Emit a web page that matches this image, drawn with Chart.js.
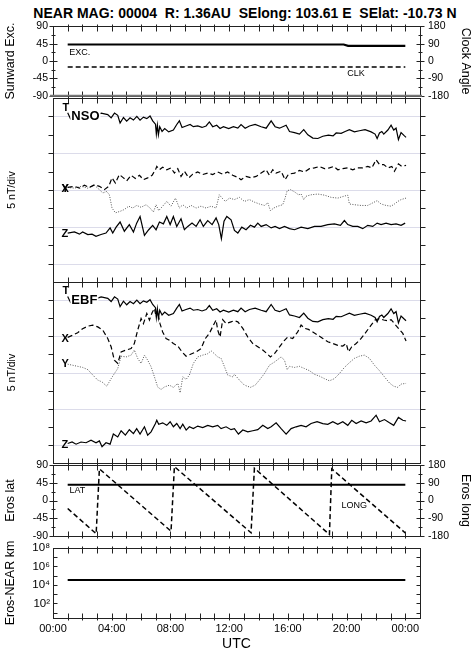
<!DOCTYPE html>
<html>
<head>
<meta charset="utf-8">
<script src="https://cdn.jsdelivr.net/npm/chart.js@4.4.1/dist/chart.umd.min.js"></script>
<style>
html, body { margin: 0; padding: 0; background: #fff; }
body { width: 474px; height: 656px; position: relative; overflow: hidden; }
canvas { position: absolute; left: 0; }
#title { position: absolute; top: 5px; left: 8px; width: 474px; text-align: center; white-space: pre;
  font: bold 14px "Liberation Sans", Arial, sans-serif; color: #000; }
</style>
</head>
<body>
<div id="title">NEAR MAG: 00004  R: 1.36AU  SElong: 103.61 E  SElat: -10.73 N</div>
<canvas id="p1" width="474" height="98" style="top:12px"></canvas>
<canvas id="p2" width="474" height="208" style="top:86px"></canvas>
<canvas id="p3" width="474" height="205" style="top:270px"></canvas>
<canvas id="p4" width="474" height="99" style="top:451px"></canvas>
<canvas id="p5" width="474" height="120" style="top:536px"></canvas>
<script>
// time axis (hours UTC)
const utcHours = [0, 4, 8, 12, 16, 20, 24];
const utcLabels = ['00:00', '04:00', '08:00', '12:00', '16:00', '20:00', '00:00'];

// panel 1: sunward excursion / clock angle (deg)
const excTicks = [-90, -45, 0, 45, 90];
const clockTicks = [-180, -90, 0, 90, 180];
const sunwardExc = [[1, 42.8], [19.8, 42.8], [20.1, 39.2], [24, 39.2]];
const clockAngle = [[1, -31], [24, -31]];

// panels 2 and 3: field components, 5 nT/div offset traces [hour, nT]
const totalField = [[1.0,46.0],[1.2,44.3],[1.8,45.0],[2.4,45.5],[3.0,45.5],[3.28,45.9],[3.73,45.5],[3.96,44.6],[4.19,45.9],[4.41,45.3],[4.57,43.2],[4.80,44.7],[5.02,43.7],[5.25,44.6],[5.48,44.0],[5.71,45.0],[5.93,44.0],[6.16,44.8],[6.39,44.4],[6.61,45.1],[6.79,43.8],[6.98,42.9],[7.04,40.2],[7.11,42.6],[7.18,40.0],[7.27,42.2],[7.43,40.9],[7.61,41.7],[7.88,40.8],[8.20,41.3],[8.43,42.8],[8.61,43.8],[8.79,42.0],[9.06,42.4],[9.34,42.8],[9.56,42.2],[9.86,42.4],[10.15,42.0],[10.43,42.4],[10.65,43.5],[10.88,42.2],[11.15,42.6],[11.38,41.7],[11.61,42.2],[11.97,41.7],[12.29,42.2],[12.59,41.8],[12.81,42.8],[13.09,41.8],[13.38,42.4],[13.77,42.8],[14.18,42.2],[14.52,41.8],[14.86,43.8],[15.13,42.2],[15.43,41.8],[15.88,42.6],[16.11,40.9],[16.45,40.6],[16.79,40.2],[17.08,41.4],[17.36,40.0],[17.70,39.1],[18.04,39.0],[18.38,39.6],[18.76,39.9],[19.08,39.7],[19.29,40.5],[19.63,40.4],[19.90,40.9],[20.19,41.4],[20.53,40.8],[20.87,41.1],[21.26,41.4],[21.67,40.8],[21.94,40.2],[22.08,39.0],[22.24,40.5],[22.40,40.9],[22.53,40.2],[22.81,41.3],[23.03,42.6],[23.21,41.3],[23.37,41.8],[23.53,38.7],[23.71,40.6],[23.94,39.7],[24.05,39.3]];

const nsoX = [[1.0,25.7],[1.46,26.0],[1.80,25.5],[2.14,26.3],[2.48,25.7],[2.82,26.4],[3.16,26.0],[3.50,25.1],[3.80,26.0],[4.02,28.3],[4.25,26.9],[4.52,29.2],[4.80,28.3],[5.02,27.5],[5.32,29.0],[5.61,28.1],[5.89,29.0],[6.16,27.8],[6.45,28.3],[6.75,29.0],[6.98,30.5],[7.07,31.4],[7.25,30.5],[7.47,31.2],[7.75,30.5],[8.04,31.0],[8.27,29.6],[8.50,30.8],[8.72,28.7],[8.95,30.1],[9.25,28.3],[9.52,29.3],[9.86,29.9],[10.20,29.2],[10.54,29.6],[10.88,29.2],[11.22,29.9],[11.56,29.3],[11.90,29.9],[12.24,29.0],[12.59,28.4],[12.81,27.8],[13.15,28.7],[13.49,28.3],[13.84,28.7],[14.18,29.6],[14.52,30.5],[14.74,29.0],[14.97,30.5],[15.20,29.6],[15.54,30.1],[15.81,27.8],[16.04,29.3],[16.45,29.6],[16.79,30.3],[17.13,29.9],[17.47,30.8],[17.81,31.0],[18.15,31.4],[18.49,30.8],[18.83,31.0],[19.13,31.4],[19.40,30.5],[19.74,30.8],[20.08,31.0],[20.42,30.5],[20.76,31.0],[21.10,31.0],[21.44,31.4],[21.72,31.0],[22.01,33.2],[22.24,31.9],[22.53,31.9],[22.81,31.0],[23.08,31.4],[23.26,30.1],[23.53,32.1],[23.76,31.4],[24.05,31.7]];

const nsoY = [[1.0,25.7],[1.46,25.5],[1.91,26.0],[2.37,25.5],[2.82,26.3],[3.16,25.1],[3.39,24.2],[3.66,24.6],[3.84,23.7],[4.02,20.1],[4.25,18.8],[4.57,19.2],[4.86,19.7],[5.16,20.6],[5.43,20.1],[5.70,20.8],[6.00,20.3],[6.34,21.0],[6.61,20.1],[6.84,19.0],[7.02,21.0],[7.20,19.4],[7.47,20.6],[7.75,21.9],[8.04,20.6],[8.34,22.8],[8.61,20.1],[8.84,21.0],[9.11,20.1],[9.41,20.8],[9.75,20.1],[10.08,20.6],[10.43,20.1],[10.77,20.6],[11.11,20.1],[11.33,23.7],[11.52,22.8],[11.74,21.9],[12.02,22.8],[12.36,22.4],[12.70,23.0],[13.04,21.9],[13.38,22.4],[13.72,21.7],[14.06,21.2],[14.40,20.8],[14.63,21.5],[14.81,19.4],[15.04,20.1],[15.31,20.6],[15.65,21.0],[15.81,22.8],[15.95,24.8],[16.18,25.1],[16.45,24.5],[16.72,23.7],[16.90,23.9],[17.08,22.4],[17.24,23.3],[17.58,23.7],[18.04,23.9],[18.49,23.6],[18.95,23.0],[19.40,22.8],[19.81,23.3],[20.08,23.6],[20.19,21.2],[20.53,21.0],[20.99,20.8],[21.44,20.8],[21.78,21.5],[22.08,22.1],[22.35,21.2],[22.69,20.8],[23.03,20.6],[23.26,21.2],[23.49,21.9],[23.71,22.4],[24.05,22.8]];

const nsoZ = [[1.0,13.3],[1.46,13.6],[1.80,13.0],[2.02,13.6],[2.37,12.9],[2.66,13.0],[2.93,12.4],[3.27,12.9],[3.61,13.3],[3.89,14.7],[4.07,13.3],[4.30,14.9],[4.57,16.3],[4.86,13.8],[5.20,15.6],[5.48,13.6],[5.70,16.0],[5.93,17.8],[6.23,12.7],[6.52,14.2],[6.79,15.4],[7.02,14.2],[7.25,16.3],[7.52,15.8],[7.75,17.8],[7.98,15.6],[8.20,17.8],[8.43,15.1],[8.72,17.2],[8.95,14.2],[9.18,15.1],[9.47,16.0],[9.75,15.1],[10.02,16.9],[10.24,15.1],[10.54,16.7],[10.84,15.6],[11.11,17.4],[11.29,15.6],[11.47,11.8],[11.65,16.5],[11.84,17.8],[12.13,16.9],[12.36,14.0],[12.59,13.3],[12.86,14.9],[13.15,14.2],[13.45,15.4],[13.72,14.9],[13.95,16.0],[14.18,15.1],[14.52,15.6],[14.86,14.7],[15.13,15.1],[15.43,14.5],[15.77,15.1],[16.11,14.5],[16.45,14.2],[16.90,14.9],[17.36,14.5],[17.81,15.1],[18.26,15.1],[18.72,15.6],[19.17,15.8],[19.58,15.4],[19.85,16.7],[20.08,15.6],[20.42,15.1],[20.76,15.1],[21.10,14.5],[21.44,15.4],[21.78,15.1],[22.08,16.0],[22.35,15.6],[22.69,16.0],[23.03,15.6],[23.37,15.8],[23.71,15.4],[23.99,16.0]];

const ebfX = [[1.0,34.7],[1.34,35.3],[1.68,36.0],[2.02,37.1],[2.37,37.8],[2.71,38.1],[3.05,37.6],[3.39,36.7],[3.73,34.4],[3.96,32.1],[4.18,28.4],[4.41,27.5],[4.64,30.7],[4.98,31.2],[5.32,31.6],[5.54,33.0],[5.77,36.7],[6.00,39.9],[6.16,38.5],[6.39,41.3],[6.57,39.5],[6.75,41.5],[6.91,42.7],[7.02,40.4],[7.13,41.8],[7.29,38.5],[7.47,36.2],[7.70,34.4],[7.93,33.9],[8.20,33.0],[8.50,32.3],[8.79,30.7],[9.07,29.5],[9.41,30.1],[9.75,30.7],[10.08,31.6],[10.38,34.4],[10.65,35.8],[10.93,38.1],[11.11,39.5],[11.22,36.7],[11.38,34.8],[11.56,39.6],[11.79,38.5],[12.13,39.0],[12.36,39.3],[12.59,39.0],[12.93,37.2],[13.27,34.8],[13.61,33.0],[13.95,32.1],[14.29,31.2],[14.52,30.4],[14.81,29.3],[15.09,30.2],[15.43,32.1],[15.77,33.9],[15.99,34.8],[16.33,34.4],[16.67,36.2],[16.90,38.1],[17.13,37.2],[17.40,36.9],[17.70,36.2],[18.04,35.3],[18.38,34.4],[18.72,33.5],[19.06,33.0],[19.40,32.5],[19.74,32.3],[19.97,33.0],[20.13,30.7],[20.35,32.1],[20.65,33.0],[20.99,34.4],[21.33,36.2],[21.67,38.1],[21.94,39.5],[22.24,39.9],[22.53,39.5],[22.81,39.3],[23.03,39.6],[23.26,38.5],[23.53,37.2],[23.83,35.8],[24.05,33.7]];

const ebfY = [[1.0,27.3],[1.34,27.0],[1.68,26.7],[2.02,26.4],[2.37,25.8],[2.71,24.3],[3.05,22.9],[3.34,22.4],[3.66,21.2],[3.96,23.3],[4.18,24.7],[4.41,26.1],[4.64,29.5],[4.98,29.3],[5.32,29.8],[5.54,31.2],[5.77,28.9],[6.00,27.5],[6.23,29.8],[6.45,28.4],[6.68,26.6],[6.91,23.8],[7.13,21.0],[7.36,20.3],[7.59,21.0],[7.93,21.5],[8.20,20.9],[8.50,22.0],[8.66,19.4],[8.84,23.8],[9.07,23.1],[9.29,24.3],[9.56,27.5],[9.86,29.3],[10.20,29.8],[10.54,30.2],[10.77,31.0],[10.99,30.2],[11.22,29.3],[11.45,28.9],[11.68,26.6],[11.90,24.3],[12.24,23.8],[12.36,24.5],[12.70,22.9],[13.04,21.5],[13.45,20.9],[13.77,21.5],[14.06,22.9],[14.40,24.7],[14.74,27.0],[15.09,27.9],[15.54,29.3],[15.77,28.4],[15.95,25.8],[16.11,26.7],[16.45,26.4],[16.79,26.7],[17.13,26.1],[17.47,25.5],[17.81,24.5],[18.15,24.0],[18.49,23.3],[18.83,22.7],[19.17,23.3],[19.51,24.7],[19.85,26.4],[20.19,27.7],[20.53,28.9],[20.87,29.5],[21.21,29.8],[21.56,28.9],[21.90,27.0],[22.24,25.5],[22.58,23.8],[22.92,22.1],[23.21,21.2],[23.49,20.9],[23.71,21.8],[24.05,22.0]];

const ebfZ = [[1.0,5.4],[1.30,5.8],[1.57,5.2],[1.91,5.8],[2.25,5.6],[2.59,6.3],[2.93,5.6],[3.16,6.1],[3.34,4.5],[3.61,5.6],[3.89,5.2],[4.11,8.0],[4.41,7.2],[4.64,8.9],[4.93,7.7],[5.20,9.2],[5.48,8.1],[5.70,9.5],[5.93,8.0],[6.23,10.0],[6.45,7.7],[6.68,8.6],[6.98,10.9],[7.07,11.8],[7.20,10.7],[7.47,11.1],[7.75,10.4],[7.98,11.4],[8.20,10.0],[8.43,10.9],[8.66,9.5],[8.84,10.7],[9.07,9.1],[9.29,10.0],[9.56,9.5],[9.86,10.2],[10.20,9.8],[10.54,10.4],[10.88,10.0],[11.22,10.4],[11.45,9.5],[11.79,10.0],[12.13,9.2],[12.36,9.5],[12.63,8.0],[12.93,9.1],[13.27,8.6],[13.61,8.9],[13.95,9.2],[14.29,10.4],[14.63,9.5],[14.86,10.0],[15.20,11.1],[15.54,9.5],[15.88,8.0],[16.22,9.5],[16.56,10.0],[16.90,10.4],[17.24,10.0],[17.58,10.9],[17.99,11.4],[18.38,10.9],[18.72,10.7],[19.06,11.4],[19.40,10.7],[19.74,11.4],[20.08,10.4],[20.35,11.8],[20.65,10.9],[20.99,11.6],[21.33,11.1],[21.67,11.6],[22.01,13.2],[22.24,11.4],[22.58,12.0],[22.92,11.1],[23.21,10.4],[23.53,12.6],[23.83,11.8],[24.05,11.6]];

// panel 4: Eros latitude (left) and longitude (right), deg
const erosLat = [[1, 40.5], [24, 40.5]];
const erosLong = [[1.0,-41],[2.94,-170],[3.16,162],[8.04,-157],[8.27,173],[13.49,-165],[13.72,165],[18.83,-174],[18.99,162],[24.0,-166]];

// panel 5: Eros-NEAR distance, km
const distTicks = [1e2, 1e4, 1e6, 1e8];
const distLabels = ['10\u00b2', '10\u2074', '10\u2076', '10\u2078'];
const erosDist = [[1, 35000], [24, 35000]];

const FONT = '"Liberation Sans", Arial, Helvetica, sans-serif';
Chart.defaults.font.family = FONT;
Chart.defaults.color = '#000';

// frame, inward/outward ticks, faint grid and in-plot labels
const framePlugin = {
    id: 'frame',
    beforeDatasetsDraw(chart, args, o) {
        if (!o.grid) return;
        const {ctx, chartArea: a} = chart;
        ctx.save();
        ctx.strokeStyle = '#dcdcea';
        ctx.lineWidth = 1;
        o.grid.forEach(v => {
            const y = Math.round(chart.scales.y.getPixelForValue(v)) + 0.5;
            ctx.beginPath(); ctx.moveTo(a.left, y); ctx.lineTo(a.right, y); ctx.stroke();
        });
        ctx.restore();
    },
    afterDatasetsDraw(chart, args, o) {
        const {ctx, chartArea: a, scales} = chart;
        ctx.save();
        (o.labels || []).forEach(l => {
            const x = scales.x.getPixelForValue(l.h);
            const y = scales[l.axis || 'y'].getPixelForValue(l.v);
            ctx.font = l.font;
            ctx.textAlign = 'left';
            ctx.textBaseline = 'middle';
            if (l.bg) {
                const w = ctx.measureText(l.text).width;
                ctx.fillStyle = '#fff';
                ctx.fillRect(x - 1, y - 6, w + 2, 12);
            }
            ctx.fillStyle = '#000';
            ctx.fillText(l.text, x, y);
        });

        const seg = (x1, y1, x2, y2) => { ctx.beginPath(); ctx.moveTo(x1, y1); ctx.lineTo(x2, y2); ctx.stroke(); };
        ctx.strokeStyle = '#222';
        ctx.lineWidth = 1;
        const L = Math.round(a.left) + 0.5, R = Math.round(a.right) + 0.5;
        const T = Math.round(a.top) + 0.5, B = Math.round(a.bottom) + 0.5;
        ctx.strokeRect(L, T, R - L, B - T);

        for (let h = 1; h <= 24; h++) {
            const x = Math.round(scales.x.getPixelForValue(h)) + 0.5;
            seg(x, T - 2, x, T + 5);
            seg(x, B - 5, x, B + 2);
        }
        const side = (t, x, dir) => {
            if (!t) return;
            const sc = scales[t.axis];
            t.major.forEach(v => {
                const y = Math.round(sc.getPixelForValue(v)) + 0.5;
                seg(x + dir * t.out, y, x - dir * t.in, y);
            });
            (t.minor || []).forEach(v => {
                const y = Math.round(sc.getPixelForValue(v)) + 0.5;
                seg(x + dir * t.mout, y, x - dir * t.min, y);
            });
        };
        side(o.left, L, -1);
        side(o.right, R, 1);

        if (o.heavyBottom) {
            ctx.strokeStyle = '#777';
            ctx.lineWidth = 2;
            seg(a.left - 3, a.bottom, a.right + 2, a.bottom);
        }
        ctx.restore();
    }
};

function xScale(show) {
    return {
        type: 'linear', min: 0, max: 25, display: show,
        grid: {display: false, drawTicks: false}, border: {display: false},
        afterBuildTicks: s => { s.ticks = utcHours.map(v => ({value: v})); },
        afterFit: s => { s.height = show ? 38 : 0; },
        ticks: {autoSkip: false, maxRotation: 0, padding: 4, font: {size: 11},
            callback: (v, i) => utcLabels[i]},
        title: {display: show, text: 'UTC', font: {size: 14}, padding: {top: 0, bottom: 3}}
    };
}

function yScale(opts) {
    const right = opts.position === 'right';
    return {
        type: opts.type || 'linear',
        position: opts.position || 'left',
        min: opts.min, max: opts.max,
        grid: {display: false, drawTicks: false}, border: {display: false},
        afterFit: s => { s.width = right ? 54 : 53; },
        afterBuildTicks: opts.values ? (s => { s.ticks = opts.values.map(v => ({value: v})); }) : undefined,
        ticks: {
            display: opts.values !== null,
            autoSkip: false,
            padding: right ? 8 : (opts.pad || 5),
            font: {size: opts.tickSize || 10.5},
            callback: opts.labels ? ((v, i) => opts.labels[i]) : (v => String(v))
        },
        title: {display: !!opts.title, text: opts.title, font: {size: opts.titleSize || 12.5},
            padding: {top: right ? 1.5 : (opts.titlePad || 3.5), bottom: 0}}
    };
}

function line(data, axis, width, dash, color) {
    return {
        data: data, yAxisID: axis, borderColor: color || '#000', borderWidth: width,
        borderDash: dash || [], pointRadius: 0, tension: 0, fill: false
    };
}

function makePanel(id, pad, datasets, scales, frame) {
    return new Chart(document.getElementById(id), {
        type: 'line',
        data: {datasets: datasets},
        options: {
            responsive: false,
            animation: false,
            events: [],
            layout: {padding: pad},
            plugins: {legend: {display: false}, tooltip: {enabled: false}, frame: frame},
            scales: scales
        },
        plugins: [framePlugin]
    });
}

const boldLbl = 'bold 11px ' + FONT;
const subLbl = 'bold 13px ' + FONT;
const smallLbl = '9px ' + FONT;
const fieldDivs = [5, 10, 15, 20, 25, 30, 35, 40, 45];

// panel 1
makePanel('p1', {top: 12, bottom: 12, left: 0, right: 0},
    [line(sunwardExc, 'y', 2.2), line(clockAngle, 'y2', 1.6, [5, 3])],
    {
        x: xScale(false),
        y: yScale({min: -90, max: 90, values: excTicks, title: 'Sunward Exc.'}),
        y2: yScale({position: 'right', min: -180, max: 180, values: clockTicks, title: 'Clock Angle'})
    },
    {
        left: {axis: 'y', major: excTicks, minor: [-67.5, -22.5, 22.5, 67.5], out: 4, in: 4, mout: 2, min: 2},
        right: {axis: 'y2', major: clockTicks, minor: [-135, -45, 45, 135], out: 4, in: 4, mout: 2, min: 2},
        heavyBottom: true,
        labels: [
            {text: 'EXC.', h: 1.1, v: 21, font: smallLbl},
            {text: 'CLK', h: 20.05, v: -32, font: smallLbl}
        ]
    });

// panel 2: NSO coordinates
makePanel('p2', {top: 12, bottom: 12, left: 0, right: 54},
    [line(totalField, 'y', 1.2), line(nsoX, 'y', 1.2, [5, 3]),
     line(nsoY, 'y', 1, [1, 1.5], '#555'), line(nsoZ, 'y', 1.2)],
    {
        x: xScale(false),
        y: yScale({min: 0, max: 50, values: null, title: '5 nT/div', titleSize: 10.5, titlePad: 5.5})
    },
    {
        grid: [5, 15, 25, 35, 45],
        left: {axis: 'y', major: fieldDivs, out: 5, in: 0},
        right: {axis: 'y', major: fieldDivs, out: 5, in: 0},
        labels: [
            {text: 'T', h: 0.64, v: 47.2, font: boldLbl},
            {text: 'NSO', h: 1.25, v: 45.0, font: subLbl, bg: true},
            {text: 'Y', h: 0.58, v: 25.3, font: boldLbl},
            {text: 'X', h: 0.58, v: 25.3, font: boldLbl},
            {text: 'Z', h: 0.58, v: 13.0, font: boldLbl}
        ]
    });

// panel 3: EBF coordinates
makePanel('p3', {top: 12, bottom: 12, left: 0, right: 54},
    [line(totalField, 'y', 1.2), line(ebfX, 'y', 1.2, [5, 3]),
     line(ebfY, 'y', 1, [1, 1.5], '#555'), line(ebfZ, 'y', 1.2)],
    {
        x: xScale(false),
        y: yScale({min: 0, max: 50, values: null, title: '5 nT/div', titleSize: 10.5, titlePad: 5.5})
    },
    {
        grid: [5, 15, 25, 35, 45],
        left: {axis: 'y', major: fieldDivs, out: 5, in: 0},
        right: {axis: 'y', major: fieldDivs, out: 5, in: 0},
        labels: [
            {text: 'T', h: 0.64, v: 47.4, font: boldLbl},
            {text: 'EBF', h: 1.25, v: 45.0, font: subLbl, bg: true},
            {text: 'X', h: 0.58, v: 34.3, font: boldLbl},
            {text: 'Y', h: 0.58, v: 27.3, font: boldLbl},
            {text: 'Z', h: 0.58, v: 5.0, font: boldLbl}
        ]
    });

// panel 4: Eros lat / long
makePanel('p4', {top: 12, bottom: 12, left: 0, right: 0},
    [line(erosLat, 'y', 2), line(erosLong, 'y2', 1.5, [5, 3])],
    {
        x: xScale(false),
        y: yScale({min: -90, max: 90, values: excTicks, title: 'Eros lat'}),
        y2: yScale({position: 'right', min: -180, max: 180, values: clockTicks, title: 'Eros long'})
    },
    {
        left: {axis: 'y', major: excTicks, minor: [-67.5, -22.5, 22.5, 67.5], out: 4, in: 4, mout: 2, min: 2},
        right: {axis: 'y2', major: clockTicks, minor: [-135, -45, 45, 135], out: 4, in: 4, mout: 2, min: 2},
        labels: [
            {text: 'LAT', h: 1.12, v: 26, font: smallLbl},
            {text: 'LONG', h: 19.65, v: -12.7, font: smallLbl}
        ]
    });

// panel 5: distance, log scale
makePanel('p5', {top: 12, bottom: 0, left: 0, right: 54},
    [line(erosDist, 'y', 2)],
    {
        x: xScale(true),
        y: yScale({type: 'logarithmic', min: 2.6, max: 1e8, values: distTicks, labels: distLabels,
            title: 'Eros-NEAR km', tickSize: 11.5, pad: 3})
    },
    {
        left: {axis: 'y', major: [10, 1e2, 1e3, 1e4, 1e5, 1e6, 1e7], out: 0, in: 4},
        right: {axis: 'y', major: [10, 1e2, 1e3, 1e4, 1e5, 1e6, 1e7], out: 0, in: 4}
    });
</script>
</body>
</html>
